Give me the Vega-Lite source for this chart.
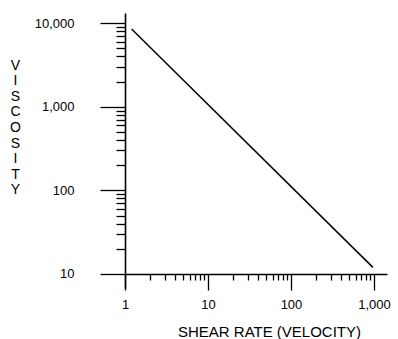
{
  "$schema": "https://vega.github.io/schema/vega-lite/v6.json",
  "width": 262,
  "height": 275,
  "autosize": {"type": "none"},
  "padding": {"left": 125, "top": 13, "right": 11, "bottom": 51},
  "background": "white",
  "config": {"view": {"stroke": null}, "font": "Liberation Sans"},
  "data": {"values": [{"shear": 1.2, "viscosity": 8500}, {"shear": 970, "viscosity": 12}]},
  "mark": {"type": "line", "color": "black", "strokeWidth": 1.5},
  "encoding": {
    "x": {
      "field": "shear",
      "type": "quantitative",
      "scale": {"type": "log", "domain": [1, 1435], "nice": false, "zero": false},
      "axis": {
        "values": [1, 2, 3, 4, 5, 6, 7, 8, 9, 10, 20, 30, 40, 50, 60, 70, 80, 90, 100, 200, 300, 400, 500, 600, 700, 800, 900, 1000],
        "offset": -14,
        "grid": false,
        "domainColor": "black",
        "domainWidth": 1.6,
        "tickColor": "black",
        "tickWidth": 1.3,
        "tickSize": {"condition": {"test": "indexof([1,10,100,1000], datum.value) >= 0", "value": 16}, "value": 6},
        "labelExpr": "indexof([1,10,100,1000], datum.value) >= 0 ? format(datum.value, ',') : ''",
        "labelOverlap": false,
        "labelFlush": false,
        "labelFontSize": 13,
        "labelColor": "black",
        "labelPadding": 8,
        "title": "SHEAR RATE (VELOCITY)",
        "titleFontSize": 15,
        "titleFontWeight": "normal",
        "titleColor": "black",
        "titleX": 144,
        "titleAlign": "center",
        "titlePadding": 13
      }
    },
    "y": {
      "field": "viscosity",
      "type": "quantitative",
      "scale": {"type": "log", "domain": [6.8, 13200], "nice": false, "zero": false},
      "axis": {
        "values": [10, 20, 30, 40, 50, 60, 70, 80, 90, 100, 200, 300, 400, 500, 600, 700, 800, 900, 1000, 2000, 3000, 4000, 5000, 6000, 7000, 8000, 9000, 10000],
        "grid": false,
        "domainColor": "black",
        "domainWidth": 1.6,
        "tickColor": "black",
        "tickWidth": 1.3,
        "tickSize": {"condition": {"test": "indexof([10,100,1000,10000], datum.value) >= 0", "value": 25}, "value": 9},
        "labelExpr": "indexof([10,100,1000,10000], datum.value) >= 0 ? format(datum.value, ',') : ''",
        "labelOverlap": false,
        "labelFlush": false,
        "labelFontSize": 13,
        "labelColor": "black",
        "labelPadding": 26,
        "title": ["V", "I", "S", "C", "O", "S", "I", "T", "Y"],
        "titleAngle": 0,
        "titleFontSize": 14,
        "titleFontWeight": "normal",
        "titleColor": "black",
        "titleAlign": "center",
        "titleBaseline": "middle",
        "titleLineHeight": 15.6,
        "titleX": -110,
        "titleY": 52
      }
    }
  }
}
